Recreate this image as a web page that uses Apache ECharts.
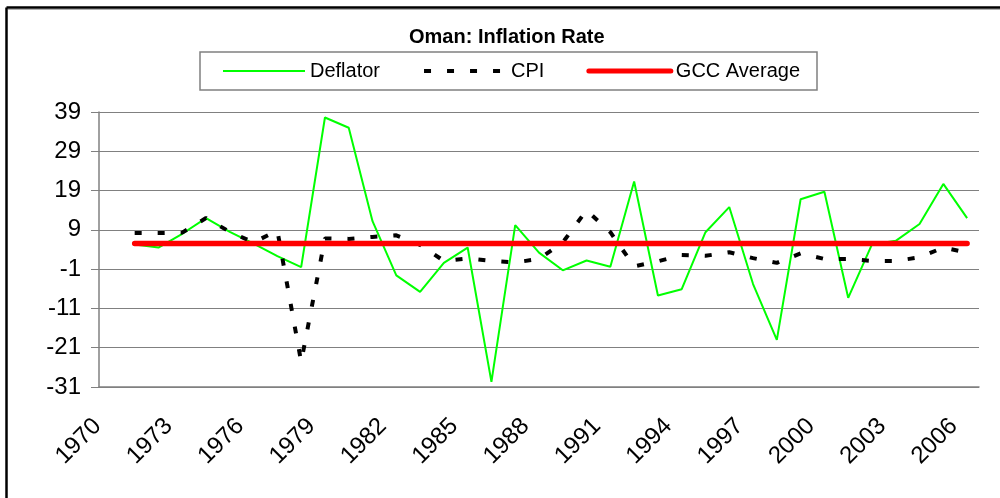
<!DOCTYPE html>
<html>
<head>
<meta charset="utf-8">
<title>Oman: Inflation Rate</title>
<script src="https://cdn.jsdelivr.net/npm/echarts@6/dist/echarts.min.js"></script>
<style>
    html, body { margin: 0; padding: 0; background: #fff; }
    #chart { width: 1000px; height: 498px; }
</style>
</head>
<body>
<div id="chart"></div>
<script>
    // data
    var years = ['1970', '1971', '1972', '1973', '1974', '1975', '1976', '1977', '1978', '1979',
        '1980', '1981', '1982', '1983', '1984', '1985', '1986', '1987', '1988', '1989',
        '1990', '1991', '1992', '1993', '1994', '1995', '1996', '1997', '1998', '1999',
        '2000', '2001', '2002', '2003', '2004', '2005', '2006'];
    var deflator = [null, 5.3, 4.5, 8.0, 12.0, 8.5, 5.5, 2.3, -0.5, 37.6,
        35.0, 11.2, -2.6, -6.8, 0.6, 4.5, -29.7, 10.2, 3.2, -1.3,
        1.2, -0.4, 21.3, -7.7, -6.1, 8.4, 14.8, -4.8, -19.0, 16.8,
        18.7, -8.3, 5.3, 6.2, 10.5, 20.7, 12.0];
    var cpi = [null, 8.2, 8.2, 8.3, 12.0, 8.5, 5.8, 8.8, -24.6, 6.8,
        6.7, 7.2, 7.6, 5.2, 1.1, 1.7, 1.1, 0.7, 1.6, 5.8,
        14.0, 8.4, -0.3, 1.0, 2.6, 2.4, 3.3, 1.8, 0.6, 3.0,
        1.6, 1.6, 1.1, 1.1, 2.0, 4.5, 3.2];
    var gccAverage = [null, 5.5, 5.5, 5.5, 5.5, 5.5, 5.5, 5.5, 5.5, 5.5,
        5.5, 5.5, 5.5, 5.5, 5.5, 5.5, 5.5, 5.5, 5.5, 5.5,
        5.5, 5.5, 5.5, 5.5, 5.5, 5.5, 5.5, 5.5, 5.5, 5.5,
        5.5, 5.5, 5.5, 5.5, 5.5, 5.5, 5.5];
    var yTicks = [-31, -21, -11, -1, 9, 19, 29, 39];

    var font = "'Liberation Sans', Arial, sans-serif";
    var gray = '#808080';

    var chart = echarts.init(document.getElementById('chart'), null, {renderer: 'canvas'});
    var option = {
        animation: false,
        backgroundColor: '#fff',
        textStyle: { fontFamily: font },
        title: {
            text: 'Oman: Inflation Rate',
            left: 404,
            top: 22,
            textStyle: { fontSize: 20, fontWeight: 'bold', color: '#000', fontFamily: font }
        },
        legend: {
            left: 200,
            top: 52,
            padding: [9, 17, 9, 22],
            borderColor: gray,
            borderWidth: 1.5,
            itemWidth: 82,
            itemHeight: 14,
            itemGap: 42,
            textStyle: { fontSize: 20, color: '#000', fontFamily: font },
            data: [
                { name: 'Deflator', itemStyle: { opacity: 0 }, lineStyle: { width: 2 } },
                { name: 'CPI', itemStyle: { opacity: 0 }, lineStyle: { width: 4, type: [7, 16] } },
                { name: 'GCC Average', itemStyle: { opacity: 0 }, lineStyle: { width: 5, cap: 'round' } }
            ]
        },
        grid: {
            left: 99,
            right: 21,
            top: 112,
            bottom: 111
        },
        xAxis: {
            type: 'category',
            data: years,
            boundaryGap: true,
            axisLine: { onZero: false, lineStyle: { color: gray, width: 1.5 } },
            axisTick: { interval: 2, length: 8, lineStyle: { color: gray } },
            axisLabel: {
                interval: 2,
                rotate: 45,
                fontSize: 24,
                color: '#000',
                fontFamily: font,
                margin: 22,
                padding: [0, 19, 0, 0]
            },
            splitLine: { show: false }
        },
        yAxis: {
            type: 'value',
            min: -31,
            max: 39,
            axisLine: { show: true, lineStyle: { color: gray, width: 1.5 } },
            axisTick: { show: true, length: 8, lineStyle: { color: gray }, customValues: yTicks },
            axisLabel: { fontSize: 24, color: '#000', fontFamily: font, margin: 18, customValues: yTicks },
            splitLine: { show: true, lineStyle: { color: gray, width: 1 } }
        },
        series: [
            {
                name: 'Deflator',
                type: 'line',
                data: deflator,
                symbol: 'none',
                color: '#00ff00',
                lineStyle: { color: '#00ff00', width: 2 }
            },
            {
                name: 'CPI',
                type: 'line',
                data: cpi,
                symbol: 'none',
                color: '#000000',
                lineStyle: { color: '#000000', width: 4, type: [7, 16], cap: 'butt' }
            },
            {
                name: 'GCC Average',
                type: 'line',
                data: gccAverage,
                symbol: 'none',
                color: '#ff0000',
                lineStyle: { color: '#ff0000', width: 5.5, cap: 'round' }
            }
        ],
        graphic: [
            // frame round the chart, as in the source picture
            { type: 'line', shape: { x1: 6.5, y1: 7.5, x2: 1000, y2: 7.5 }, style: { stroke: '#000', lineWidth: 2.5 } },
            { type: 'line', shape: { x1: 6.5, y1: 7.5, x2: 6.5, y2: 498 }, style: { stroke: '#000', lineWidth: 2.5 } },
            { type: 'line', shape: { x1: 8, y1: 9.5, x2: 1000, y2: 9.5 }, style: { stroke: '#b0b0b0', lineWidth: 1 } }
        ]
    };
    chart.setOption(option);
</script>
</body>
</html>
